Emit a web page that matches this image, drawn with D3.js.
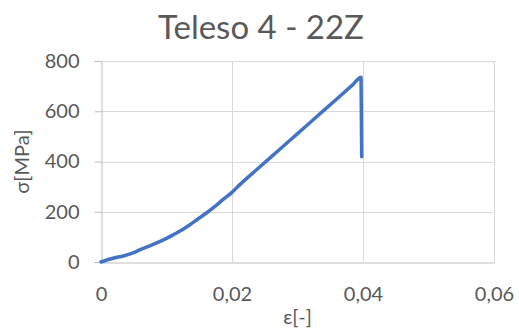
<!DOCTYPE html>
<html>
<head>
<meta charset="utf-8">
<script src="https://cdn.jsdelivr.net/npm/d3@7"></script>
<style>
  html, body { margin: 0; padding: 0; background: #fff; }
  svg { display: block; }
</style>
</head>
<body>
<svg id="chart" width="519" height="332"></svg>
<script>
const title = "Teleso 4 - 22Z";
const xLabel = "ε[-]";
const yLabel = "σ[MPa]";
const xTicks = [0, 0.02, 0.04, 0.06];
const xTickLabels = ["0", "0,02", "0,04", "0,06"];
const yTicks = [0, 200, 400, 600, 800];
const yTickLabels = ["0", "200", "400", "600", "800"];
const strain = [0, 0.001, 0.002, 0.0034, 0.005, 0.0059, 0.0072, 0.0085, 0.010, 0.011, 0.0124, 0.01357, 0.0148, 0.0161, 0.0174, 0.0186, 0.020, 0.0212, 0.024, 0.027, 0.030, 0.033, 0.036, 0.0385, 0.0397, 0.0398];
const stress = [0, 9, 16, 24, 37, 48, 62, 76, 94, 108, 128, 148, 171, 195, 221, 248, 277, 308, 373, 442, 511, 580, 649, 707, 735, 419];

const svg = d3.select("#chart");
const font = "Lato, 'Open Sans', sans-serif";
const textColor = "#595959";

const x = d3.scaleLinear().domain([0, 0.06]).range([101, 494]);
const y = d3.scaleLinear().domain([0, 800]).range([262, 61]);

// gridlines
svg.append("g").selectAll("line.h").data(yTicks.slice(1)).join("line")
  .attr("x1", x(0)).attr("x2", x(0.06))
  .attr("y1", d => Math.round(y(d)) + 0.5).attr("y2", d => Math.round(y(d)) + 0.5)
  .attr("stroke", "#D9D9D9").attr("stroke-width", 1);
svg.append("g").selectAll("line.v").data(xTicks.slice(1)).join("line")
  .attr("x1", d => Math.round(x(d)) + 0.5).attr("x2", d => Math.round(x(d)) + 0.5)
  .attr("y1", y(0)).attr("y2", y(800))
  .attr("stroke", "#D9D9D9").attr("stroke-width", 1);

// axes
const yAxis = d3.axisLeft(y).tickValues(yTicks).tickFormat((d, i) => yTickLabels[i]).tickSize(7).tickPadding(15);
const gy = svg.append("g").attr("transform", `translate(${Math.round(x(0)) + 0.5},0)`).call(yAxis);
gy.select(".domain").attr("stroke", "#BFBFBF");
gy.selectAll(".tick line").attr("stroke", "#BFBFBF");
gy.selectAll(".tick text").attr("font-family", font).attr("font-size", 20).attr("fill", textColor);

const xAxis = d3.axisBottom(x).tickValues(xTicks).tickFormat((d, i) => xTickLabels[i]).tickSize(0).tickPadding(24);
const gx = svg.append("g").attr("transform", `translate(0,${Math.round(y(0)) + 0.5})`).call(xAxis);
gx.select(".domain").attr("stroke", "#BFBFBF");
gx.selectAll(".tick text").attr("font-family", font).attr("font-size", 20).attr("fill", textColor);

// line
const pts = strain.map((s, i) => [s, stress[i]]);
svg.append("path").datum(pts)
  .attr("d", d3.line().curve(d3.curveMonotoneX).x(d => x(d[0])).y(d => y(d[1])))
  .attr("fill", "none").attr("stroke", "#4472C4").attr("stroke-width", 3.5)
  .attr("stroke-linejoin", "round").attr("stroke-linecap", "round");

// titles
svg.append("text").attr("x", 261).attr("y", 39).attr("text-anchor", "middle")
  .attr("font-family", font).attr("font-size", 33).attr("fill", textColor).text(title);
svg.append("text").attr("x", 297.5).attr("y", 324).attr("text-anchor", "middle")
  .attr("font-family", font).attr("font-size", 20).attr("fill", textColor).text(xLabel);
svg.append("text").attr("transform", "translate(29,161.5) rotate(-90)").attr("text-anchor", "middle")
  .attr("font-family", font).attr("font-size", 20).attr("fill", textColor).text(yLabel);
</script>
</body>
</html>
